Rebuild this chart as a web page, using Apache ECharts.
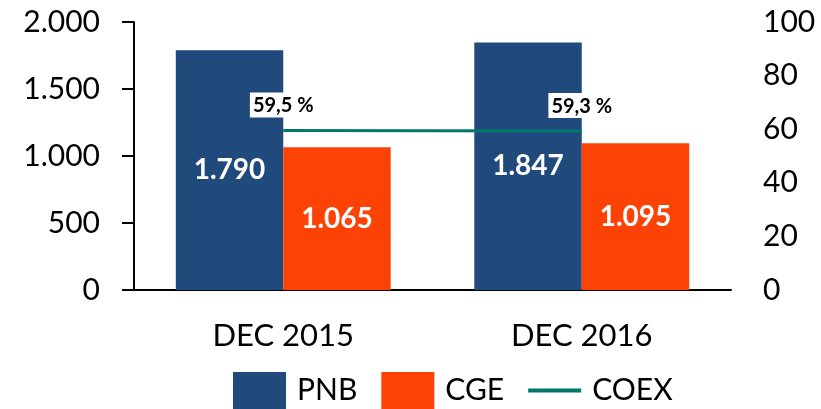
<!DOCTYPE html>
<html>
<head>
<meta charset="utf-8">
<script src="https://cdn.jsdelivr.net/npm/echarts@6/dist/echarts.min.js"></script>
<style>html,body{margin:0;padding:0;background:#fff}#c{width:821px;height:409px}</style>
</head>
<body>
<div id="c"></div>
<script>
var categories = ['DEC 2015', 'DEC 2016'];
var pnbValues = [1790, 1847];
var cgeValues = [1065, 1095];
var coexValues = [59.5, 59.3];
var leftTicks = {min: 0, max: 2000, interval: 500};
var rightTicks = {min: 0, max: 100, interval: 20};

function fmtThousands(v) {
  return String(Math.round(v)).replace(/\B(?=(\d{3})+(?!\d))/g, '.');
}
var FONT = 'Lato';
var chart = echarts.init(document.getElementById('c'), null, {renderer: 'canvas'});
chart.setOption({
  animation: false,
  backgroundColor: '#fff',
  textStyle: {fontFamily: FONT},
  grid: {left: 134, right: 90, top: 22, bottom: 119},
  legend: {
    left: 233, top: 372, padding: 0, itemGap: 24,
    itemWidth: 53, itemHeight: 37, symbolKeepAspect: true,
    textStyle: {fontFamily: FONT, fontSize: 30, color: '#000', padding: [0, 0, 0, 6]},
    data: [
      {name: 'PNB', icon: 'rect'},
      {name: 'CGE', icon: 'rect'},
      {name: 'COEX', icon: 'path://M0,0H53V4H0Z'}
    ]
  },
  xAxis: {
    type: 'category', data: categories,
    axisLine: {show: true, lineStyle: {color: '#000', width: 2}},
    axisTick: {show: false},
    axisLabel: {fontFamily: FONT, fontSize: 31, color: '#000', margin: 30}
  },
  yAxis: [{
    type: 'value', min: leftTicks.min, max: leftTicks.max, interval: leftTicks.interval,
    axisLine: {show: true, lineStyle: {color: '#000', width: 2}},
    axisTick: {show: true, length: 12, lineStyle: {color: '#000', width: 2}},
    splitLine: {show: false},
    axisLabel: {fontFamily: FONT, fontSize: 30, color: '#000', margin: 34, formatter: fmtThousands}
  }, {
    type: 'value', min: rightTicks.min, max: rightTicks.max, interval: rightTicks.interval,
    axisLine: {show: false}, axisTick: {show: false}, splitLine: {show: false},
    axisLabel: {fontFamily: FONT, fontSize: 30, color: '#000', margin: 32}
  }],
  series: [{
    name: 'PNB', type: 'bar', data: pnbValues, barGap: '0%', barCategoryGap: '28%',
    itemStyle: {color: '#1F4A7B'},
    label: {show: true, position: 'inside', color: '#fff', fontFamily: FONT, fontWeight: 'bold', fontSize: 28,
      formatter: function (p) { return fmtThousands(p.value); }}
  }, {
    name: 'CGE', type: 'bar', data: cgeValues,
    itemStyle: {color: '#FC4205'},
    label: {show: true, position: 'inside', color: '#fff', fontFamily: FONT, fontWeight: 'bold', fontSize: 28,
      formatter: function (p) { return fmtThousands(p.value); }}
  }, {
    name: 'COEX', type: 'line', yAxisIndex: 1, data: coexValues,
    symbol: 'circle', symbolSize: 0, z: 5,
    lineStyle: {color: '#00786C', width: 3},
    itemStyle: {color: '#00786C'},
    label: {show: true, position: 'top', distance: 13, color: '#000', fontFamily: FONT, fontWeight: 'bold', fontSize: 20,
      backgroundColor: '#fff', padding: [3, 3, 2, 3],
      formatter: function (p) { return String(p.value).replace('.', ',') + ' %'; }}
  }]
});
</script>
</body>
</html>
